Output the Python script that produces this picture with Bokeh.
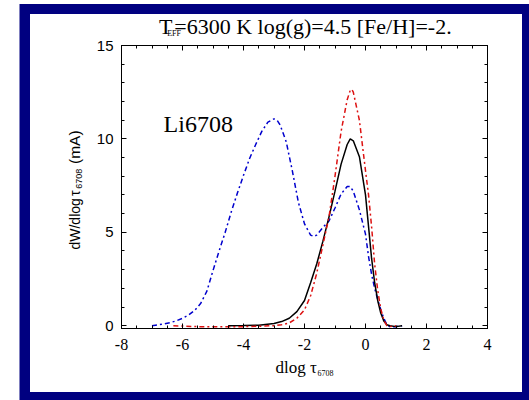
import math
from bokeh.plotting import figure
from bokeh.layouts import column, row
from bokeh.models import Label, LinearAxis, FixedTicker, Range1d
from bokeh.embed import file_html
from bokeh.resources import INLINE

# ---- data ----
black_x = [-4.5, -4.0, -3.5, -3.0, -2.75, -2.5, -2.25, -2.0, -1.8, -1.6, -1.4, -1.2, -1.0,
           -0.8, -0.6, -0.5, -0.4, -0.2, 0.0, 0.1, 0.2, 0.3, 0.4, 0.5, 0.6, 0.7, 0.8, 1.0, 1.2]
black_y = [0.0, 0.01, 0.03, 0.12, 0.22, 0.4, 0.75, 1.35, 2.3, 3.3, 4.5, 5.8, 7.2,
           8.65, 9.7, 10.0, 9.9, 9.05, 7.0, 5.3, 3.6, 2.3, 1.35, 0.68, 0.25, 0.05, 0.0, -0.05, 0.0]

red_x = [-6.3, -5.5, -5.0, -4.5, -4.0, -3.5, -3.0, -2.75, -2.5, -2.25, -2.0, -1.8, -1.6, -1.4,
         -1.2, -1.0, -0.8, -0.6, -0.5, -0.45, -0.4, -0.2, 0.0, 0.1, 0.2, 0.3, 0.4, 0.5, 0.6,
         0.7, 0.8, 1.0]
red_y = [0.0, -0.05, -0.05, -0.05, -0.05, -0.03, 0.0, 0.05, 0.15, 0.4, 0.85, 1.6, 2.8, 4.3,
         5.8, 8.0, 10.4, 12.1, 12.6, 12.65, 12.5, 11.0, 8.3, 7.0, 5.3, 3.3, 1.9, 0.9, 0.3,
         0.0, -0.05, 0.0]

blue_x = [-7.0, -6.8, -6.6, -6.4, -6.2, -6.0, -5.8, -5.6, -5.4, -5.2, -5.0, -4.8, -4.6, -4.4,
          -4.2, -4.0, -3.8, -3.6, -3.4, -3.2, -3.0, -2.9, -2.8, -2.6, -2.4, -2.2, -2.0, -1.8,
          -1.7, -1.6, -1.4, -1.2, -1.0, -0.8, -0.6, -0.5, -0.4, -0.2, 0.0, 0.1, 0.2, 0.3,
          0.4, 0.5, 0.6, 0.7, 0.8, 1.0, 1.2]
blue_y = [0.0, 0.05, 0.1, 0.17, 0.26, 0.4, 0.57, 0.82, 1.2, 1.85, 2.95, 4.0, 5.0, 6.1,
          7.1, 8.05, 8.95, 9.7, 10.4, 10.9, 11.07, 11.0, 10.75, 9.85, 8.3, 6.6, 5.45, 4.85,
          4.78, 4.85, 5.25, 5.6, 6.3, 7.05, 7.45, 7.45, 7.2, 6.2, 4.9, 3.7, 2.75, 2.0,
          1.4, 0.85, 0.4, 0.05, -0.05, -0.05, 0.0]

x_ticks = [-8, -6, -4, -2, 0, 2, 4]
x_minor = [v * 0.5 for v in range(-16, 9)]
y_ticks = [0, 5, 10, 15]
y_minor = list(range(0, 16))

title_main = "=6300 K log(g)=4.5 [Fe/H]=-2."
serif = "Liberation Serif"
sans = "Liberation Sans"

# ---- geometry (content area 492 x 378, page origin at x=30, y=14) ----
YLW = 64                 # y-label strip: page x 30..94
YTW = 19                 # y tick-label strip: page x 94..113
PX0 = 30 + YLW + YTW     # 113, left edge of the main plot and title strip
TH = 26                  # title strip: page y 14..40
ML, MR, MT, MB = 8, 35, 5, 30
FW, FH = 366, 283
MW = ML + FW + MR        # 409
MH = MT + FH + MB        # 318
LH = TH + MH             # 344, height of the left strips
XH = 378 - LH            # 34
X0, X1 = -8.0, 4.0
Y0, Y1 = -0.15, 15.0


def blank(w, h):
    f = figure(width=w, height=h, output_backend="svg", toolbar_location=None,
               x_range=Range1d(0, w), y_range=Range1d(0, h),
               x_axis_type=None, y_axis_type=None,
               min_border=0, min_border_left=0, min_border_right=0,
               min_border_top=0, min_border_bottom=0)
    f.outline_line_color = None
    f.background_fill_color = "white"
    f.border_fill_color = "white"
    f.grid.visible = False
    return f


def lab(f, text, x, y, font, size, angle=0.0):
    f.add_layout(Label(x=x, y=y, text=text, text_font=font, text_font_size=size,
                       text_color="black", angle=angle, text_align="left",
                       text_baseline="alphabetic"))


def mk_axis(ticks, minor, show, font=None, size=None, standoff=0, lines=True):
    ax = LinearAxis(ticker=FixedTicker(ticks=ticks, minor_ticks=minor))
    ax.major_tick_in = 5
    ax.major_tick_out = 0
    ax.minor_tick_in = 3
    ax.minor_tick_out = 0
    col = "black" if lines else None
    ax.axis_line_color = col
    ax.major_tick_line_color = col
    ax.minor_tick_line_color = col
    if show:
        ax.major_label_text_font = font
        ax.major_label_text_font_size = size
        ax.major_label_text_color = "black"
        ax.major_label_standoff = standoff
        ax.major_label_overrides = {t: str(t) for t in ticks}
    else:
        ax.major_label_text_font_size = "0px"
        ax.major_label_text_color = None
        ax.major_label_standoff = 0
    return ax


# title strip (page x 113..522, y 14..40); y measured upward from strip bottom
tf = blank(MW, TH)
lab(tf, "T", 155 - PX0, 14, serif, "22px")
lab(tf, "EFF", 164 - PX0, 7, serif, "8px")
lab(tf, title_main, 172 - PX0, 14, serif, "22px")

# y-label strip (page x 30..94, y 14..358)
yf = blank(YLW, LH)
rot = math.pi / 2
lab(yf, "dW/dlog", 44, 358 - 262, sans, "14px", rot)
lab(yf, "\u03c4", 44, 358 - 197, sans, "14px", rot)
lab(yf, "6708", 48, 358 - 188, sans, "9px", rot)
lab(yf, "(mA)", 44, 358 - 158, sans, "15.5px", rot)

# y tick-label strip (page x 94..113, y 14..358): same y scale as the plot
yt = figure(width=YTW, height=LH, output_backend="svg", toolbar_location=None,
            x_range=Range1d(0, 1), y_range=Range1d(Y0, Y1),
            x_axis_type=None, y_axis_type=None,
            min_border_left=YTW - 1, min_border_right=0,
            min_border_top=TH + MT, min_border_bottom=MB)
yt.outline_line_color = None
yt.background_fill_color = "white"
yt.border_fill_color = "white"
yt.grid.visible = False
yt.add_layout(mk_axis(y_ticks, y_minor, True, sans, "15px", 0, lines=False), "left")

# x-label strip (page x 30..522, y 358..392)
xf = blank(492, XH)
lab(xf, "dlog \u03c4", 275 - 30, 25, serif, "17px")
lab(xf, "6708", 317 - 30, 20, serif, "8px")

# main plot (page x 113..522, y 40..358; frame 121..487 x 45..328)
p = figure(width=MW, height=MH, output_backend="svg", toolbar_location=None,
           x_range=Range1d(X0, X1), y_range=Range1d(Y0, Y1),
           min_border_left=ML, min_border_right=MR, min_border_top=MT, min_border_bottom=MB,
           x_axis_type=None, y_axis_type=None)
p.background_fill_color = "white"
p.border_fill_color = "white"
p.outline_line_color = "black"
p.grid.visible = False

p.add_layout(mk_axis(x_ticks, x_minor, True, serif, "16px", 10), "below")
p.add_layout(mk_axis(y_ticks, y_minor, False), "left")
p.add_layout(mk_axis(x_ticks, x_minor, False), "above")
p.add_layout(mk_axis(y_ticks, y_minor, False), "right")

p.line(blue_x, blue_y, line_color="#0000cd", line_width=1.5, line_dash="5 3 2 3")
p.line(black_x, black_y, line_color="black", line_width=1.5)
p.line(red_x, red_y, line_color="#dd1111", line_width=1.5, line_dash="5 3 2 3")

p.add_layout(Label(x=-6.62, y=10.8, text="Li6708", text_font=serif, text_font_size="24px",
                   text_color="black", text_align="left", text_baseline="alphabetic"))

layout = column(row(yf, yt, column(tf, p)), xf)
layout.styles = {
    "margin-left": "30px", "margin-top": "14px",
    "box-shadow": "-1.5px -1px 0 9px #000080",
    "background-color": "white",
}

open("out.html", "w").write(file_html(layout, INLINE))
